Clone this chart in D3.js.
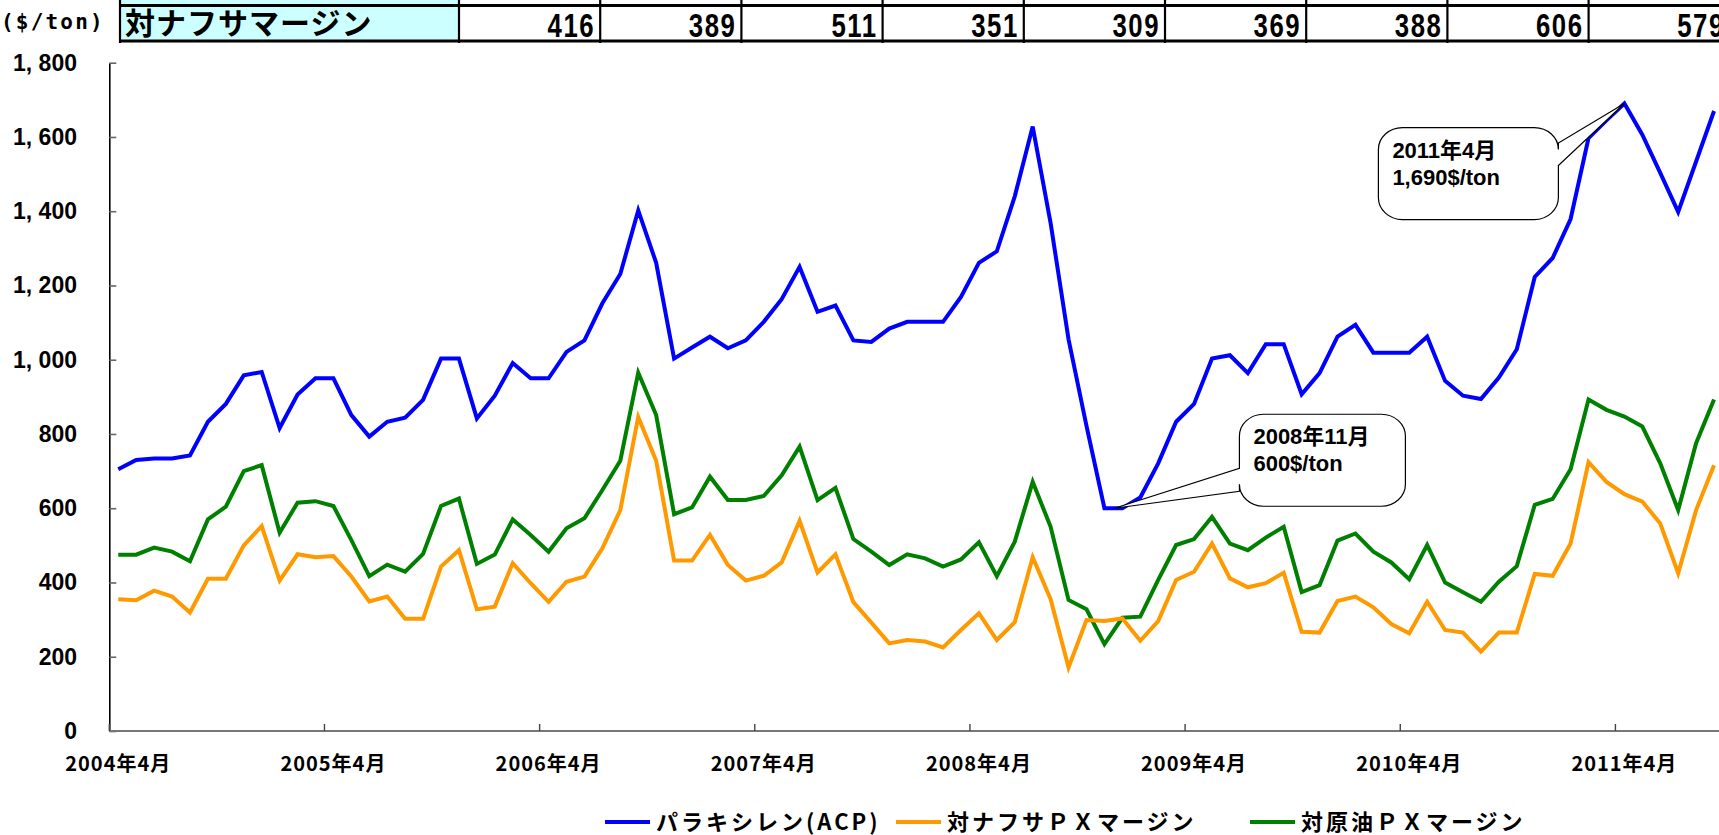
<!DOCTYPE html>
<html>
<head>
<meta charset="utf-8">
<script src="https://cdn.jsdelivr.net/npm/d3@7"></script>
<style>
  html, body { margin: 0; padding: 0; background: #fff; overflow: hidden; }
  svg { display: block; }
</style>
</head>
<body>
<svg id="chart" width="1719" height="835"></svg>
<script>
// ---- data -------------------------------------------------------------
// Monthly categories, April 2004 – September 2011
const startYear = 2004, startMonth = 4, monthCount = 90;

// Paraxylene ACP price ($/ton)
const pxAcp = [
  705, 730, 734, 734, 742, 833, 881, 958, 967, 816, 906, 950,
  950, 851, 793, 833, 844, 892, 1003, 1003, 842, 903, 991, 950,
  950, 1021, 1052, 1152, 1231, 1402, 1261, 1003, 1033, 1062, 1031, 1052,
  1102, 1163, 1250, 1129, 1146, 1052, 1048, 1084, 1102, 1102, 1102, 1169,
  1261, 1292, 1440, 1628, 1368, 1055, 822, 600, 600, 629, 721, 833,
  881, 1003, 1012, 964, 1042, 1042, 907, 964, 1062, 1094, 1019, 1019,
  1019, 1062, 943, 903, 894, 952, 1028, 1223, 1274, 1379, 1597, 1645,
  1690, 1606, 1503, 1398, 1534, 1670
];

// PX margin over naphtha ($/ton)
const marginNaphtha = [
  355, 352, 378, 362, 319, 410, 410, 500, 552, 405, 476, 468,
  471, 416, 349, 362, 302, 302, 443, 487, 328, 335, 452, 398,
  348, 402, 416, 492, 595, 846, 728, 459, 459, 528, 447, 405,
  418, 454, 566, 427, 476, 347, 292, 236, 245, 241, 225, 272,
  317, 245, 293, 468, 355, 171, 299, 296, 303, 243, 296, 407,
  429, 505, 411, 387, 398, 426, 267, 265, 350, 362, 333, 288,
  263, 348, 272, 265, 214, 265, 265, 423, 418, 505, 724, 671,
  638, 618, 559, 425, 595, 716
];

// PX margin over crude oil ($/ton)
const marginCrude = [
  475, 475, 494, 483, 457, 570, 604, 700, 716, 534, 615, 619,
  606, 514, 417, 448, 429, 477, 606, 626, 450, 475, 570, 528,
  483, 546, 573, 649, 728, 965, 851, 584, 602, 685, 622, 622,
  633, 689, 766, 622, 655, 517, 483, 447, 476, 465, 443, 462,
  508, 417, 510, 671, 550, 353, 328, 234, 305, 308, 407, 501,
  517, 577, 505, 487, 521, 550, 374, 393, 513, 532, 483, 454,
  409, 501, 400, 374, 348, 402, 444, 609, 625, 705, 893, 865,
  847, 820, 721, 595, 775, 893
];

const seriesNames = ["パラキシレン(ACP)", "対ナフサＰＸマージン", "対原油ＰＸマージン"];
const seriesColors = ["#0000FF", "#FF9900", "#008000"];

const yTicks = [0, 200, 400, 600, 800, 1000, 1200, 1400, 1600, 1800];
const xTickLabels = ["2004年4月", "2005年4月", "2006年4月", "2007年4月",
                     "2008年4月", "2009年4月", "2010年4月", "2011年4月"];

// Annual margin table shown above the plot
const tableLabel = "対ナフサマージン";
const tableValues = [416, 389, 511, 351, 309, 369, 388, 606, 579];

// Highlighted points: [month label, value]
const callouts = [
  { month: "2011年4月", value: 1690 },
  { month: "2008年11月", value: 600 }
];

// ---- setup ------------------------------------------------------------
const months = d3.range(monthCount).map(i => {
  const m0 = startMonth - 1 + i;
  return `${startYear + Math.floor(m0 / 12)}年${(m0 % 12) + 1}月`;
});

const svg = d3.select("#chart");
const plotLeft = 109.3, plotTop = 62.7, plotBottom = 731, step = 17.93;

const x = d3.scaleBand()
  .domain(months)
  .range([plotLeft, plotLeft + months.length * step])
  .padding(0);
const cx = m => x(m) + x.bandwidth() / 2;

const y = d3.scaleLinear().domain([0, 1800]).range([plotBottom, plotTop]);

const jpFont = "'Noto Sans CJK JP', 'Noto Sans', sans-serif";
const numFont = "'Liberation Sans', Arial, sans-serif";

// ---- table ------------------------------------------------------------
const table = svg.append("g");
const labelX0 = 120, labelX1 = 459, colW = 141.2;
const rowTop = 5.5, rowBottom = 41;

table.append("rect")
  .attr("x", labelX0).attr("y", -40)
  .attr("width", labelX1 - labelX0).attr("height", rowBottom + 40)
  .attr("fill", "#CCFFFF");

table.append("text")
  .attr("x", labelX0 + 5).attr("y", 33.5)
  .attr("font-family", jpFont).attr("font-weight", 700)
  .attr("font-size", 30).attr("letter-spacing", 1)
  .attr("fill", "#000")
  .text(tableLabel);

// the last column runs past the right edge of the page, so its value is clipped
table.selectAll("text.val")
  .data(tableValues)
  .join("text")
  .attr("class", "val")
  .attr("transform", (d, i) => `translate(${labelX1 + (i + 1) * colW - 5},37) scale(0.78,1)`)
  .attr("text-anchor", "end")
  .attr("font-family", numFont).attr("font-weight", 700)
  .attr("font-size", 33).attr("letter-spacing", 2)
  .attr("fill", "#000")
  .text(d => d);

// grid lines of the table
[rowTop, rowBottom].forEach(yy => {
  table.append("line")
    .attr("x1", labelX0).attr("x2", 1719)
    .attr("y1", yy).attr("y2", yy)
    .attr("stroke", "#000").attr("stroke-width", 2.8);
});
const colEdges = [labelX0, labelX1].concat(tableValues.map((d, i) => labelX1 + (i + 1) * colW));
table.selectAll("line.col")
  .data(colEdges)
  .join("line")
  .attr("class", "col")
  .attr("x1", d => d).attr("x2", d => d)
  .attr("y1", 0).attr("y2", rowBottom + 2)
  .attr("stroke", "#000").attr("stroke-width", 2.2);

// unit label
svg.append("text")
  .attr("x", 1).attr("y", 29)
  .attr("font-family", "'DejaVu Sans Mono', monospace").attr("font-weight", 700)
  .attr("font-size", 21).attr("letter-spacing", 2.2)
  .attr("fill", "#000")
  .text("($/ton)");

// ---- axes -------------------------------------------------------------
const yAxis = d3.axisLeft(y)
  .tickValues(yTicks)
  .tickSizeInner(-7).tickSizeOuter(0)
  .tickPadding(plotLeft - 77)
  .tickFormat(d => d3.format(",")(d).replace(",", ", "));

const yg = svg.append("g")
  .attr("transform", `translate(${plotLeft},0)`)
  .call(yAxis);
yg.select(".domain").attr("stroke", "#000").attr("stroke-width", 1.6);
yg.selectAll(".tick line").attr("stroke", "#666").attr("stroke-width", 1.6);
yg.selectAll(".tick text")
  .attr("font-family", numFont).attr("font-weight", 700)
  .attr("font-size", 23).attr("fill", "#000");

// x axis baseline
svg.append("line")
  .attr("x1", plotLeft).attr("x2", x.range()[1])
  .attr("y1", plotBottom).attr("y2", plotBottom)
  .attr("stroke", "#777").attr("stroke-width", 2);

// year ticks at the left edge of each April band
svg.selectAll("line.xtick")
  .data(xTickLabels)
  .join("line")
  .attr("class", "xtick")
  .attr("x1", d => x(d)).attr("x2", d => x(d))
  .attr("y1", plotBottom).attr("y2", plotBottom - 7)
  .attr("stroke", "#444").attr("stroke-width", 1.4);

svg.selectAll("text.xlab")
  .data(xTickLabels)
  .join("text")
  .attr("class", "xlab")
  .attr("x", d => cx(d)).attr("y", 771)
  .attr("text-anchor", "middle")
  .attr("font-family", jpFont).attr("font-weight", 700)
  .attr("font-size", 20).attr("letter-spacing", 1)
  .attr("fill", "#000")
  .text(d => d);

// ---- lines ------------------------------------------------------------
const allSeries = [pxAcp, marginNaphtha, marginCrude];
const line = d3.line()
  .x((d, i) => cx(months[i]))
  .y(d => y(d));

// draw crude first, then naphtha, then ACP on top
[2, 1, 0].forEach(k => {
  svg.append("path")
    .datum(allSeries[k])
    .attr("fill", "none")
    .attr("stroke", seriesColors[k])
    .attr("stroke-width", 4)
    .attr("stroke-linejoin", "miter")
    .attr("d", line);
});

// ---- callouts ---------------------------------------------------------
function calloutPath(x0, y0, w, h, rx, ry, side, a, b, tip) {
  const x1 = x0 + w, y1 = y0 + h;
  let p = `M${x0 + rx},${y0} H${x1 - rx} A${rx},${ry} 0 0 1 ${x1},${y0 + ry}`;
  if (side === "right") {
    p += ` V${a} L${tip[0]},${tip[1]} L${x1},${b}`;
  }
  p += ` V${y1 - ry} A${rx},${ry} 0 0 1 ${x1 - rx},${y1} H${x0 + rx} A${rx},${ry} 0 0 1 ${x0},${y1 - ry}`;
  if (side === "left") {
    p += ` V${b} L${tip[0]},${tip[1]} L${x0},${a}`;
  }
  p += ` V${y0 + ry} A${rx},${ry} 0 0 1 ${x0 + rx},${y0} Z`;
  return p;
}

const calloutLayout = [
  { dx: -246, dy: 24, w: 180, h: 92, side: "right", a: 15.5, b: 38, tipShift: 0 },
  { dx: 125, dy: -94, w: 166, h: 92, side: "left", a: 54, b: 77, tipShift: 10 }
];

callouts.forEach((c, k) => {
  const L = calloutLayout[k];
  const tip = [cx(c.month) + L.tipShift, y(c.value)];
  const bx = tip[0] + L.dx, by = tip[1] + L.dy;
  svg.append("path")
    .attr("d", calloutPath(bx, by, L.w, L.h, 24, 22, L.side, by + L.a, by + L.b, tip))
    .attr("fill", "#fff")
    .attr("stroke", "#000")
    .attr("stroke-width", 1.2);
  const lines = [c.month, d3.format(",")(c.value) + "$/ton"];
  svg.selectAll(null)
    .data(lines)
    .join("text")
    .attr("x", bx + 14)
    .attr("y", (d, i) => by + 30 + i * 27)
    .attr("font-family", "'Liberation Sans', 'Noto Sans CJK JP', sans-serif")
    .attr("font-weight", 700)
    .attr("font-size", 22)
    .attr("fill", "#000")
    .text(d => d);
});

// ---- legend -----------------------------------------------------------
const legendX = [605, 896, 1250];
const legend = svg.append("g");
seriesNames.forEach((name, k) => {
  legend.append("line")
    .attr("x1", legendX[k]).attr("x2", legendX[k] + 45)
    .attr("y1", 822).attr("y2", 822)
    .attr("stroke", seriesColors[k]).attr("stroke-width", 4);
  legend.append("text")
    .attr("x", legendX[k] + 51).attr("y", 830)
    .attr("font-family", jpFont).attr("font-weight", 700)
    .attr("font-size", 22).attr("letter-spacing", 3)
    .attr("fill", "#000")
    .text(name);
});
</script>
</body>
</html>
